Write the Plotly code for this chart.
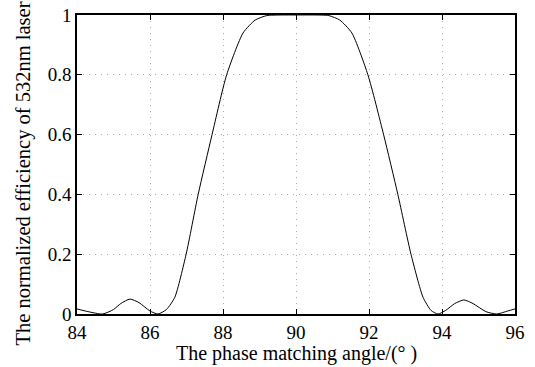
import plotly.graph_objects as go

angle = [84.0, 84.3, 84.7, 85.0, 85.2, 85.45, 85.7, 86.0, 86.22, 86.45, 86.68, 86.99,
         87.32, 87.70, 88.1, 88.55, 88.88, 89.2, 89.6, 90.0, 90.5, 90.9, 91.2, 91.53,
         91.97, 92.40, 92.79, 93.15, 93.48, 93.7, 93.89, 94.1, 94.35, 94.6, 94.85,
         95.2, 95.5, 95.8, 96.0]
efficiency = [0.017, 0.008, 0.0, 0.015, 0.035, 0.05, 0.038, 0.01, 0.0, 0.015, 0.056, 0.2,
              0.4, 0.6, 0.8, 0.94, 0.983, 0.998, 1.0, 1.0, 1.0, 0.998, 0.983, 0.94,
              0.8, 0.6, 0.4, 0.2, 0.056, 0.012, 0.0, 0.012, 0.035, 0.047, 0.035,
              0.008, 0.0, 0.01, 0.017]
x_ticks = [84, 86, 88, 90, 92, 94, 96]
y_ticks = [0, 0.2, 0.4, 0.6, 0.8, 1]
y_tick_labels = ["0", "0.2", "0.4", "0.6", "0.8", "1"]
x_title = "The phase matching angle/(° )"
y_title = "The normalized efficiency of 532nm laser"

font_family = "Liberation Serif, Times New Roman, serif"

fig = go.Figure()
fig.add_trace(go.Scatter(x=angle, y=efficiency, mode="lines",
                         line=dict(color="black", width=1, shape="spline", smoothing=0.6),
                         showlegend=False, hoverinfo="skip"))

axis_common = dict(showline=True, linecolor="black", linewidth=1.5, mirror="allticks",
                   ticks="inside", ticklen=5, tickcolor="black", tickwidth=1.2,
                   showgrid=True, gridcolor="#aaa", griddash="1px,5px", gridwidth=1,
                   zeroline=False, automargin=False, ticklabeloverflow="allow",
                   tickfont=dict(family=font_family, size=19, color="black"))

fig.update_xaxes(range=[84, 96], tickvals=x_ticks, ticktext=[str(t) for t in x_ticks],
                 **axis_common)
fig.update_yaxes(range=[0, 1], tickvals=y_ticks, ticktext=y_tick_labels,
                 **axis_common)

fig.add_annotation(text=x_title, xref="paper", yref="paper", x=0.5, y=0,
                   xanchor="center", yanchor="middle", yshift=-39, showarrow=False,
                   font=dict(family=font_family, size=20, color="black"))
fig.add_annotation(text=y_title, xref="paper", yref="paper", x=0, y=0.47,
                   xanchor="center", yanchor="middle", xshift=-54, textangle=-90,
                   showarrow=False,
                   font=dict(family=font_family, size=20.5, color="black"))

fig.update_layout(width=535, height=367, margin=dict(l=77, r=20, t=15, b=53),
                  plot_bgcolor="white", paper_bgcolor="white",
                  font=dict(family=font_family, color="black"))

fig.write_html("out.html", config={"displayModeBar": False},
               post_script="document.body.style.margin='0';document.body.style.overflow='hidden';")
